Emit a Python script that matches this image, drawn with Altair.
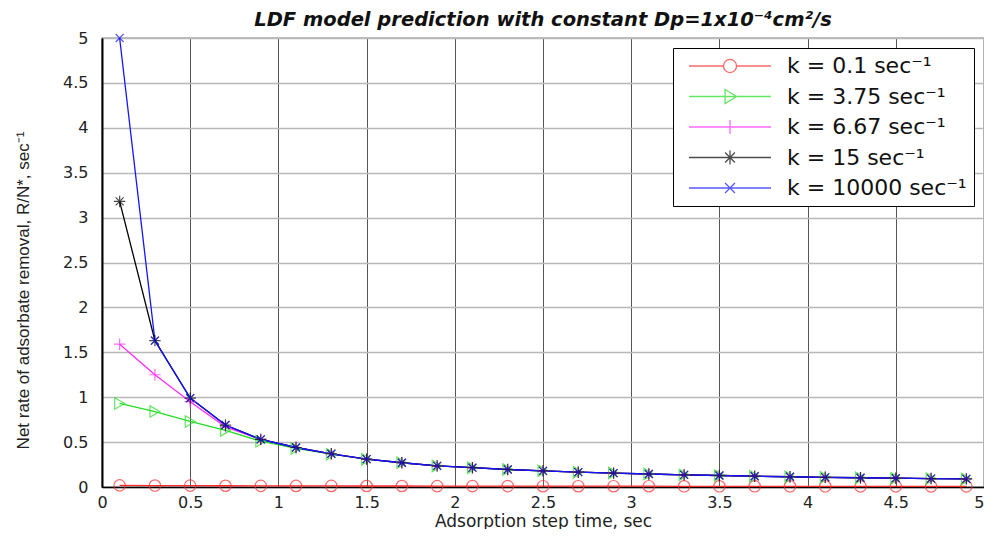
import altair as alt
import pandas as pd

# ---- data ----
x_vals = [0.1, 0.3, 0.5, 0.7, 0.9, 1.1, 1.3, 1.5, 1.7, 1.9, 2.1, 2.3, 2.5,
          2.7, 2.9, 3.1, 3.3, 3.5, 3.7, 3.9, 4.1, 4.3, 4.5, 4.7, 4.9]

series_labels = ["k = 0.1 sec⁻¹", "k = 3.75 sec⁻¹", "k = 6.67 sec⁻¹",
                 "k = 15 sec⁻¹", "k = 10000 sec⁻¹"]

k_0_1 = [0.018, 0.016, 0.015, 0.014, 0.013, 0.012, 0.012, 0.011, 0.011, 0.010,
         0.010, 0.010, 0.009, 0.009, 0.009, 0.009, 0.008, 0.008, 0.008, 0.008,
         0.008, 0.007, 0.007, 0.007, 0.007]
k_3_75 = [0.93, 0.84, 0.73, 0.63, 0.51, 0.43, 0.365, 0.31, 0.27, 0.235,
          0.215, 0.195, 0.18, 0.165, 0.155, 0.145, 0.135, 0.128, 0.12, 0.114,
          0.108, 0.103, 0.098, 0.094, 0.09]
k_6_67 = [1.59, 1.25, 0.95, 0.67, 0.53, 0.44, 0.37, 0.31, 0.27, 0.235,
          0.215, 0.195, 0.18, 0.165, 0.155, 0.145, 0.135, 0.128, 0.12, 0.114,
          0.108, 0.103, 0.098, 0.094, 0.09]
k_15 = [3.18, 1.63, 0.99, 0.69, 0.53, 0.44, 0.37, 0.31, 0.27, 0.235,
        0.215, 0.195, 0.18, 0.165, 0.155, 0.145, 0.135, 0.128, 0.12, 0.114,
        0.108, 0.103, 0.098, 0.094, 0.09]
k_10000 = [5.0, 1.63, 0.99, 0.69, 0.53, 0.44, 0.37, 0.31, 0.27, 0.235,
           0.215, 0.195, 0.18, 0.165, 0.155, 0.145, 0.135, 0.128, 0.12, 0.114,
           0.108, 0.103, 0.098, 0.094, 0.09]

x_ticks = [0, 0.5, 1, 1.5, 2, 2.5, 3, 3.5, 4, 4.5, 5]
y_ticks = [0, 0.5, 1, 1.5, 2, 2.5, 3, 3.5, 4, 4.5, 5]

# ---- styles ----
colors = ["#ff2a2a", "#22dd22", "#ff2cff", "#000000", "#1515ff"]

marker_paths = [
    "circle",
    "triangle-right",
    "M-1,0L1,0M0,-1L0,1",
    "M-1,0L1,0M0,-1L0,1M-0.7,-0.7L0.7,0.7M-0.7,0.7L0.7,-0.7",
    "M-0.7,-0.7L0.7,0.7M-0.7,0.7L0.7,-0.7",
]
legend_paths = [
    "M-1,0L-0.16,0M0.16,0L1,0M-0.16,0A0.16,0.16 0 1,0 0.16,0A0.16,0.16 0 1,0 -0.16,0",
    "M-1,0L1,0M-0.12,-0.17L0.16,0L-0.12,0.17Z",
    "M-1,0L1,0M0,-0.17L0,0.17",
    "M-1,0L1,0M0,-0.17L0,0.17M-0.12,-0.12L0.12,0.12M-0.12,0.12L0.12,-0.12",
    "M-1,0L1,0M-0.12,-0.12L0.12,0.12M-0.12,0.12L0.12,-0.12",
]

rows = []
for label, ys in zip(series_labels, [k_0_1, k_3_75, k_6_67, k_15, k_10000]):
    for xv, yv in zip(x_vals, ys):
        rows.append({"t": xv, "rate": yv, "series": label})
df = pd.DataFrame(rows)

FONT = "DejaVu Sans"

x_enc = alt.X(
    "t:Q",
    scale=alt.Scale(domain=[0, 5], nice=False, zero=False),
    axis=alt.Axis(
        values=x_ticks, format="~g", title="Adsorption step time, sec",
        grid=True, gridColor="#555555", gridWidth=1, ticks=False,
        domainColor="#000000", domainWidth=1.5,
        labelFont=FONT, labelFontSize=16, labelColor="#222222", labelPadding=7,
        labelAlign={"expr": "datum.value >= 5 ? 'right' : 'center'"},
        labelFlush=False, labelOverlap=False, labelBound=False,
        titleFont=FONT, titleFontSize=17, titleFontWeight="normal",
        titleColor="#222222", titlePadding=3,
    ),
)
y_enc = alt.Y(
    "rate:Q",
    scale=alt.Scale(domain=[0, 5], nice=False, zero=False),
    axis=alt.Axis(
        values=y_ticks, format="~g",
        title="Net rate of adsorbate removal, R/N*, sec⁻¹",
        grid=True, gridColor="#b8b8b8", gridWidth=1.5, ticks=False,
        domainColor="#000000", domainWidth=2,
        labelFont=FONT, labelFontSize=16, labelColor="#222222", labelPadding=14,
        labelFlush=False, labelOverlap=False, labelBound=False,
        titleFont="Liberation Sans", titleFontSize=17, titleFontWeight="normal",
        titleColor="#222222", titleX=-70, titleY=252,
    ),
)

color_scale = alt.Scale(domain=series_labels, range=colors)

base = alt.Chart(df)

lines = base.mark_line(strokeWidth=1.3).encode(
    x=x_enc, y=y_enc,
    color=alt.Color("series:N", scale=color_scale, legend=None),
    detail="series:N",
)

points = base.mark_point(filled=False, size=130, strokeWidth=1.2).encode(
    x=x_enc, y=y_enc,
    color=alt.Color("series:N", scale=color_scale, legend=None),
    shape=alt.Shape("series:N", scale=alt.Scale(domain=series_labels, range=marker_paths), legend=None),
)

legend_def = alt.Legend(
    title=None, orient="top-right", offset=10, padding=7,
    fillColor="white", strokeColor="black",
    labelFont=FONT, labelFontSize=22, labelColor="#111111", labelOffset=15,
    labelLimit=400,
    labelExpr="datum.label + '\u2002'",
    symbolSize=6724, symbolStrokeWidth=1.3, symbolOffset=8,
    clipHeight=22, rowPadding=8.5,
)

legend_layer = base.transform_filter("false").mark_point(filled=False, strokeWidth=1.3).encode(
    x=x_enc, y=y_enc,
    color=alt.Color("series:N", scale=color_scale, legend=legend_def),
    shape=alt.Shape("series:N", scale=alt.Scale(domain=series_labels, range=legend_paths), legend=legend_def),
)

chart = alt.layer(lines, points, legend_layer).resolve_scale(
    color="independent", shape="independent"
).properties(
    width=882, height=449,
    padding={"left": 94, "top": 30, "right": 0, "bottom": 42},
    autosize=alt.AutoSizeParams(type="none"),
    title=alt.Title(
        "LDF model prediction with constant Dp=1x10⁻⁴cm²/s",
        font=FONT, fontSize=19.5, fontWeight="bold", fontStyle="italic",
        color="#111111", anchor="middle", frame="group", offset=0,
    ),
).configure_view(stroke="#000000", strokeWidth=1.2)

chart.save("out.html", embed_options={"renderer": "svg", "actions": False})
